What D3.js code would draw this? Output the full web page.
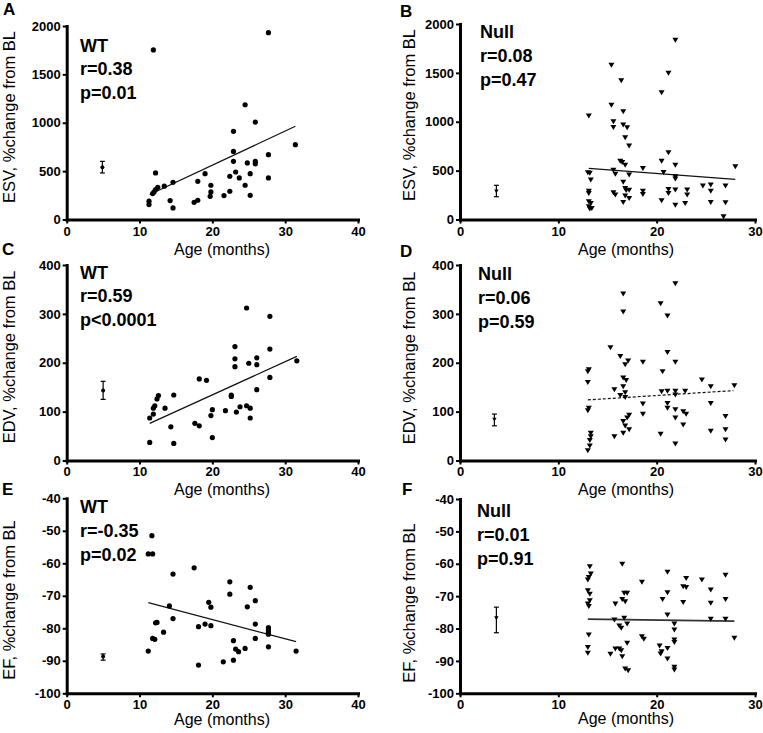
<!DOCTYPE html>
<html>
<head>
<meta charset="utf-8">
<script src="https://cdn.jsdelivr.net/npm/d3@7"></script>
<style>
  body { margin: 0; background: #fff; }
  text { font-family: "Liberation Sans", Arial, sans-serif; }
</style>
</head>
<body>
<div id="chart"></div>
<script>
// ---- data: [age (months), % change from BL] ----
const esvWT = [[11.9,1753],[27.7,1931],[24.5,1186],[25.9,1007],[22.9,911],[31.4,773],[22.9,704],[27.7,670],
  [22.9,601],[24.8,585],[25.9,601],[25.9,575],[12.2,481],[19.0,474],[23.2,491],[22.4,447],[23.7,430],[25.2,474],
  [27.7,430],[14.6,385],[18.0,395],[19.8,354],[24.5,354],[13.4,344],[12.5,333],[12.2,309],[12.0,285],[11.8,268],
  [19.8,285],[22.4,292],[19.7,240],[21.6,247],[25.2,250],[18.0,199],[17.5,178],[14.2,196],[14.6,120],[11.3,189],[11.3,154]];

const esvNull = [[21.9,1836],[15.4,1580],[21.2,1496],[16.4,1420],[20.5,1297],[15.4,1171],[13.1,1059],[16.6,1103],
  [15.6,1000],[15.6,943],[16.6,967],[17.0,939],[16.8,837],[17.2,752],[21.2,683],[16.3,598],[16.5,585],[20.5,598],
  [16.8,557],[21.9,557],[28.0,540],[18.6,523],[15.6,506],[20.7,483],[13.0,479],[13.2,473],[15.8,465],[17.2,455],
  [21.9,438],[21.9,416],[13.3,404],[16.6,381],[24.7,343],[25.5,353],[27.0,343],[16.8,319],[16.9,298],[17.2,300],
  [21.2,309],[21.9,302],[23.1,302],[13.1,289],[15.6,274],[18.6,289],[21.2,268],[25.5,289],[13.1,268],[15.8,251],
  [18.6,258],[23.1,251],[16.8,241],[17.2,217],[20.5,192],[16.6,176],[25.5,176],[27.0,173],[21.9,148],[22.9,165],
  [13.1,183],[13.3,165],[13.1,131],[13.4,114],[13.2,108],[26.8,29]];

const edvWT = [[24.7,312],[27.9,295],[23.1,233],[27.9,228],[23.1,208],[26.1,210],[25.0,199],[23.1,192],[26.1,196],
  [31.6,204],[27.9,170],[18.2,167],[19.2,164],[26.1,145],[12.6,133],[12.4,126],[14.7,134],[22.6,134],[22.6,131],
  [12.1,112],[11.9,107],[13.5,107],[20.0,104],[21.8,102],[23.8,110],[24.7,112],[25.2,107],[23.3,99],[19.8,92],
  [11.9,95],[11.4,87],[25.2,87],[17.6,76],[18.2,71],[14.3,69],[20.0,47],[11.4,37],[14.7,35]];

const edvNull = [[21.9,362],[16.6,341],[20.4,321],[16.6,304],[21.1,296],[15.3,231],[21.1,221],[16.3,213],[17.1,204],
  [18.6,201],[21.9,201],[16.8,196],[13.1,186],[13.0,182],[20.6,182],[16.6,169],[16.9,164],[24.6,165],[13.0,160],
  [16.6,151],[25.5,151],[27.9,153],[15.7,145],[16.8,139],[20.5,141],[21.1,142],[21.9,142],[22.9,142],[16.3,133],
  [16.8,129],[21.9,134],[18.6,116],[21.1,117],[25.5,117],[13.1,107],[21.1,107],[13.0,102],[21.9,104],[22.7,100],
  [23.0,95],[18.6,95],[17.2,93],[17.0,87],[27.0,90],[21.9,87],[16.6,80],[16.8,71],[22.7,73],[17.2,63],[16.6,56],
  [25.5,60],[27.0,63],[13.3,56],[15.7,49],[20.4,54],[13.3,49],[13.2,41],[27.0,42],[13.2,30],[21.9,34],[13.0,20]];

const efWT = [[11.7,-51.5],[11.2,-57.1],[11.8,-57.1],[17.5,-61.4],[14.6,-63.3],[22.4,-65.7],[25.2,-67.4],[22.4,-69.5],
  [25.9,-71.5],[19.5,-72.0],[19.8,-73.5],[24.8,-73.4],[14.1,-73.1],[14.6,-77.0],[12.4,-78.2],[12.2,-78.3],[18.1,-79.5],
  [19.0,-78.7],[19.8,-79.2],[25.9,-78.7],[27.7,-79.8],[27.7,-80.5],[27.7,-81.3],[27.7,-81.8],[13.3,-81.2],[11.8,-83.1],
  [12.1,-83.4],[25.9,-83.1],[22.9,-83.8],[24.5,-86.2],[23.2,-86.4],[23.6,-87.2],[27.7,-85.7],[11.2,-87.0],[31.5,-87.0],
  [21.5,-90.3],[22.9,-89.8],[18.1,-91.3]];

const efNull = [[16.5,-60.1],[13.2,-60.9],[27.0,-63.5],[21.1,-62.6],[13.3,-63.1],[13.1,-64.2],[13.0,-65.0],[23.0,-64.5],
  [24.6,-65.0],[18.5,-65.7],[22.7,-67.1],[23.0,-67.3],[25.5,-68.1],[13.0,-68.3],[13.2,-69.4],[21.1,-68.9],[16.7,-69.1],
  [17.0,-69.1],[13.2,-71.4],[16.5,-71.0],[16.8,-71.7],[20.6,-71.0],[27.0,-71.0],[13.0,-72.4],[13.1,-73.2],[15.8,-72.4],
  [22.7,-71.9],[25.5,-72.2],[21.1,-75.8],[15.7,-77.3],[16.7,-76.8],[25.5,-77.1],[27.0,-77.1],[17.0,-78.6],[16.2,-79.2],
  [16.4,-79.9],[21.8,-78.6],[21.8,-80.4],[13.1,-82.0],[18.5,-82.5],[18.7,-83.3],[27.9,-83.0],[21.8,-83.5],[21.8,-84.3],
  [17.0,-84.5],[13.0,-85.8],[15.8,-86.3],[16.2,-86.3],[16.4,-86.8],[20.3,-85.4],[21.1,-86.1],[20.5,-87.1],[20.4,-87.8],
  [13.0,-87.6],[15.3,-87.9],[16.5,-88.7],[21.1,-89.4],[16.8,-92.5],[17.1,-93.0],[21.8,-91.9],[21.8,-92.8]];

// regression line end points [[age, value], [age, value]]
const esvWTFit  = [[11.4,258],[31.4,963]];
const esvNullFit = [[13.1,523],[28.0,410]];
const edvWTFit  = [[11.4,76],[31.6,213]];
const edvNullFit = [[13.0,124],[27.8,143]];
const efWTFit   = [[11.2,-72.1],[31.5,-84.1]];
const efNullFit  = [[13.0,-77.1],[27.9,-77.7]];

// baseline mean with error bar: [age, mean, low, high]
const esvWTBL  = [4.9, 540, 481, 601];
const esvNullBL = [3.7, 288, 233, 350];
const edvWTBL  = [5.0, 143, 125, 162];
const edvNullBL = [3.5, 84, 71, 95];
const efWTBL   = [5.0, -88.7, -89.8, -87.9];
const efNullBL  = [3.7, -76.8, -81.3, -73.4];

// stats labels
const esvWTStats  = ['WT', 'r=0.38', 'p=0.01'];
const esvNullStats = ['Null', 'r=0.08', 'p=0.47'];
const edvWTStats  = ['WT', 'r=0.59', 'p<0.0001'];
const edvNullStats = ['Null', 'r=0.06', 'p=0.59'];
const efWTStats   = ['WT', 'r=-0.35', 'p=0.02'];
const efNullStats  = ['Null', 'r=0.01', 'p=0.91'];

// axis ticks
const esvTicks = [0, 500, 1000, 1500, 2000];
const edvTicks = [0, 100, 200, 300, 400];
const efTicks = [-100, -90, -80, -70, -60, -50, -40];
const wtAgeTicks = [0, 10, 20, 30, 40];
const nullAgeTicks = [0, 10, 20, 30];

const yTitles = ['ESV, %change from BL', 'EDV, %change from BL', 'EF, %change from BL'];
const xTitle = 'Age (months)';

const W = 763, H = 733;
const svg = d3.select('#chart').append('svg')
  .attr('width', W).attr('height', H)
  .style('background', '#fff');

// layout of the six panels
const panels = [
  { tag: 'A', data: esvWT, fit: esvWTFit, bl: esvWTBL, stats: esvWTStats, yTicks: esvTicks, xTicks: wtAgeTicks,
    yTitle: yTitles[0], marker: 'circle', x0: 66.7, x1: 358, y0: 219.5, y1: 26, xPad: 3,
    tagXY: [3, 15], statsXY: [80, 51.5], yTitleXY: [14.5, 117], xTitleXY: [222, 254.5] },
  { tag: 'B', data: esvNull, fit: esvNullFit, bl: esvNullBL, stats: esvNullStats, yTicks: esvTicks, xTicks: nullAgeTicks,
    yTitle: yTitles[0], marker: 'tri', x0: 460, x1: 755, y0: 219.5, y1: 24, xPad: 3,
    tagXY: [400, 16.5], statsXY: [480, 38], yTitleXY: [415, 115], xTitleXY: [626, 254.5] },
  { tag: 'C', data: edvWT, fit: edvWTFit, bl: edvWTBL, stats: edvWTStats, yTicks: edvTicks, xTicks: wtAgeTicks,
    yTitle: yTitles[1], marker: 'circle', x0: 66.7, x1: 358, y0: 460.5, y1: 265, xPad: 2,
    tagXY: [2, 255], statsXY: [80, 278.5], yTitleXY: [14.5, 357], xTitleXY: [222, 494.5] },
  { tag: 'D', data: edvNull, fit: edvNullFit, bl: edvNullBL, stats: edvNullStats, yTicks: edvTicks, xTicks: nullAgeTicks,
    yTitle: yTitles[1], marker: 'tri', x0: 460, x1: 755, y0: 460.5, y1: 265, dashed: true, xPad: 2,
    tagXY: [400, 256.5], statsXY: [478, 280], yTitleXY: [415, 358], xTitleXY: [626, 494.5] },
  { tag: 'E', data: efWT, fit: efWTFit, bl: efWTBL, stats: efWTStats, yTicks: efTicks, xTicks: wtAgeTicks,
    yTitle: yTitles[2], marker: 'circle', x0: 66.7, x1: 358, y0: 693.3, y1: 498.3, xPad: 2,
    tagXY: [2, 495], statsXY: [80, 513], yTitleXY: [14.5, 600], xTitleXY: [222, 725] },
  { tag: 'F', data: efNull, fit: efNullFit, bl: efNullBL, stats: efNullStats, yTicks: efTicks, xTicks: nullAgeTicks,
    yTitle: yTitles[2], marker: 'tri', x0: 460, x1: 755, y0: 693.3, y1: 499, xPad: 2,
    tagXY: [402, 495], statsXY: [477, 517], yTitleXY: [415, 603], xTitleXY: [626, 724] }
];

const triPath = 'M-3,-2.4L3,-2.4L0,2.6Z';

panels.forEach(p => {
  const x = d3.scaleLinear()
    .domain(d3.extent(p.xTicks))
    .range([p.x0, p.x1]);
  const y = d3.scaleLinear()
    .domain(d3.extent(p.yTicks))
    .range([p.y0, p.y1]);

  const g = svg.append('g');

  // axes
  const xAxis = g.append('g')
    .attr('transform', `translate(0,${p.y0})`)
    .call(d3.axisBottom(x).tickValues(p.xTicks).tickFormat(d => d)
      .tickSize(4).tickSizeOuter(0).tickPadding(p.xPad));
  const yAxis = g.append('g')
    .attr('transform', `translate(${p.x0},0)`)
    .call(d3.axisLeft(y).tickValues(p.yTicks).tickFormat(d => d)
      .tickSize(4).tickSizeOuter(0).tickPadding(2));

  [xAxis, yAxis].forEach(a => {
    a.select('.domain').attr('stroke', '#000').attr('stroke-width', 3).attr('stroke-linecap', 'square');
    a.selectAll('.tick line').attr('stroke', '#000').attr('stroke-width', 2);
    a.selectAll('.tick text')
      .attr('fill', '#000')
      .style('font-size', '13px')
      .style('font-weight', 'bold');
  });

  // axis titles
  g.append('text')
    .attr('x', p.xTitleXY[0]).attr('y', p.xTitleXY[1])
    .attr('text-anchor', 'middle')
    .style('font-size', '16px')
    .text(xTitle);

  g.append('text')
    .attr('transform', `translate(${p.yTitleXY[0]},${p.yTitleXY[1]}) rotate(-90)`)
    .attr('text-anchor', 'middle')
    .style('font-size', '16.5px')
    .text(p.yTitle);

  // panel letter
  g.append('text')
    .attr('x', p.tagXY[0]).attr('y', p.tagXY[1])
    .style('font-size', '17px')
    .style('font-weight', 'bold')
    .text(p.tag);

  // stats block
  const st = g.append('text')
    .attr('x', p.statsXY[0]).attr('y', p.statsXY[1])
    .style('font-size', '18px')
    .style('font-weight', 'bold');
  st.selectAll('tspan')
    .data(p.stats)
    .enter().append('tspan')
      .attr('x', p.statsXY[0])
      .attr('dy', (d, i) => i === 0 ? 0 : 23.8)
      .text(d => d);

  // regression line
  g.append('path')
    .datum(p.fit)
    .attr('d', d3.line().x(d => x(d[0])).y(d => y(d[1])))
    .attr('fill', 'none')
    .attr('stroke', p.tag === 'F' ? '#333' : '#111')
    .attr('stroke-width', p.tag === 'F' ? 1.6 : 1.2)
    .attr('stroke-dasharray', p.dashed ? '3,2' : null);

  // points
  if (p.marker === 'circle') {
    g.selectAll('.pt')
      .data(p.data)
      .enter().append('circle')
        .attr('class', 'pt')
        .attr('cx', d => x(d[0]))
        .attr('cy', d => y(d[1]))
        .attr('r', 2.6)
        .attr('fill', '#000');
  } else {
    g.selectAll('.pt')
      .data(p.data)
      .enter().append('path')
        .attr('class', 'pt')
        .attr('d', triPath)
        .attr('transform', d => `translate(${x(d[0])},${y(d[1])})`)
        .attr('fill', '#000');
  }

  // baseline mean +/- error
  const [bx, bm, blo, bhi] = p.bl;
  const eb = g.append('g').attr('stroke', '#000').attr('stroke-width', 1.2);
  eb.append('line')
    .attr('x1', x(bx)).attr('x2', x(bx))
    .attr('y1', y(blo)).attr('y2', y(bhi));
  [blo, bhi].forEach(v => {
    eb.append('line')
      .attr('x1', x(bx) - 2.5).attr('x2', x(bx) + 2.5)
      .attr('y1', y(v)).attr('y2', y(v));
  });
  if (p.marker === 'circle') {
    g.append('circle')
      .attr('cx', x(bx)).attr('cy', y(bm))
      .attr('r', 2).attr('fill', '#000');
  } else {
    g.append('path')
      .attr('d', 'M-2.2,-1.8L2.2,-1.8L0,2Z')
      .attr('transform', `translate(${x(bx)},${y(bm)})`)
      .attr('fill', '#000');
  }
});
</script>
</body>
</html>
